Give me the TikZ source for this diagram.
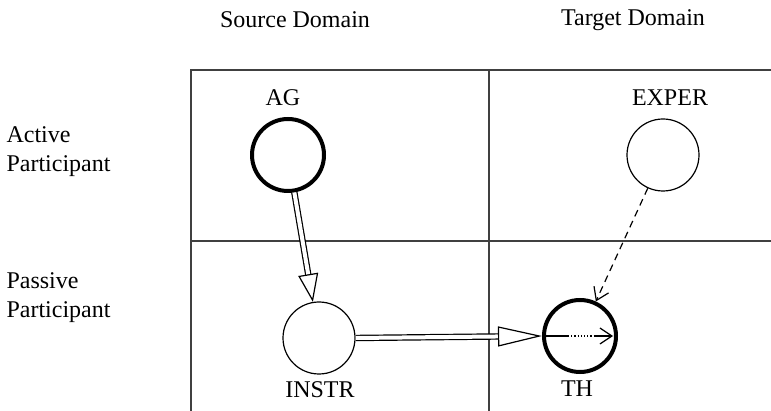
\documentclass[tikz,border=0pt]{standalone}
\usepackage{fontspec}
\setmainfont{Liberation Serif}
\usetikzlibrary{arrows.meta, positioning}

\begin{document}
\begin{tikzpicture}[x=1pt, y=-1pt,
  every node/.style={font=\fontsize{24}{29}\selectfont},
  grid/.style={draw=black!75, line width=1.5pt},
  role/.style={circle, draw, line width=1.2pt, minimum size=72pt, inner sep=0pt},
  focus/.style={role, line width=4pt},
  hollow/.style={double, double distance=4pt, line width=1.2pt, -{Triangle[open, length=#1, width=20pt]}},
  barb/.style={line width=1.2pt, -{Straight Barb[length=12pt, width=16pt]}}]
\useasboundingbox (0,0) rectangle (771,411);
% the grid
\draw[grid] (191,411) -- (191,70) -- (771,70);
\draw[grid] (489,70) -- (489,411);
\draw[grid] (191,241) -- (771,241);

% headers
\node (src) at (295,20) {Source Domain};
\node (tgt) at (633,20) {Target Domain};
\node[align=left, anchor=west] (act) at (3,152) {Active\\Participant};
\node[align=left, anchor=west] (pas) at (3,298) {Passive\\Participant};

% roles
\node[focus] (ag) at (288,155) {};
\node[role] (exper) at (663,155) {};
\node[role] (instr) at (319,338) {};
\node[focus] (th) at (580,336) {};

\node (aglbl) at (283,98) {AG};
\node (experlbl) at (670,98) {EXPER};
\node (instrlbl) at (320,390) {INSTR};
\node (thlbl) at (577,389) {TH};

% connectors
\draw[hollow=28pt] (ag) -- (instr);
\draw[hollow=44pt] (instr.east) -- (th.west);
\draw[barb, dash pattern=on 7pt off 5pt] (exper) -- (th);

\coordinate[right=26pt of th.west] (dotA);
\coordinate[right=52pt of th.west] (dotB);
\coordinate[right=71pt of th.west] (tipC);
\draw[line width=1.2pt] (th.west) -- (dotA);
\draw[line width=1.2pt, dotted] (dotA) -- (dotB);
\draw[barb] (dotB) -- (tipC);
\end{tikzpicture}
\end{document}
